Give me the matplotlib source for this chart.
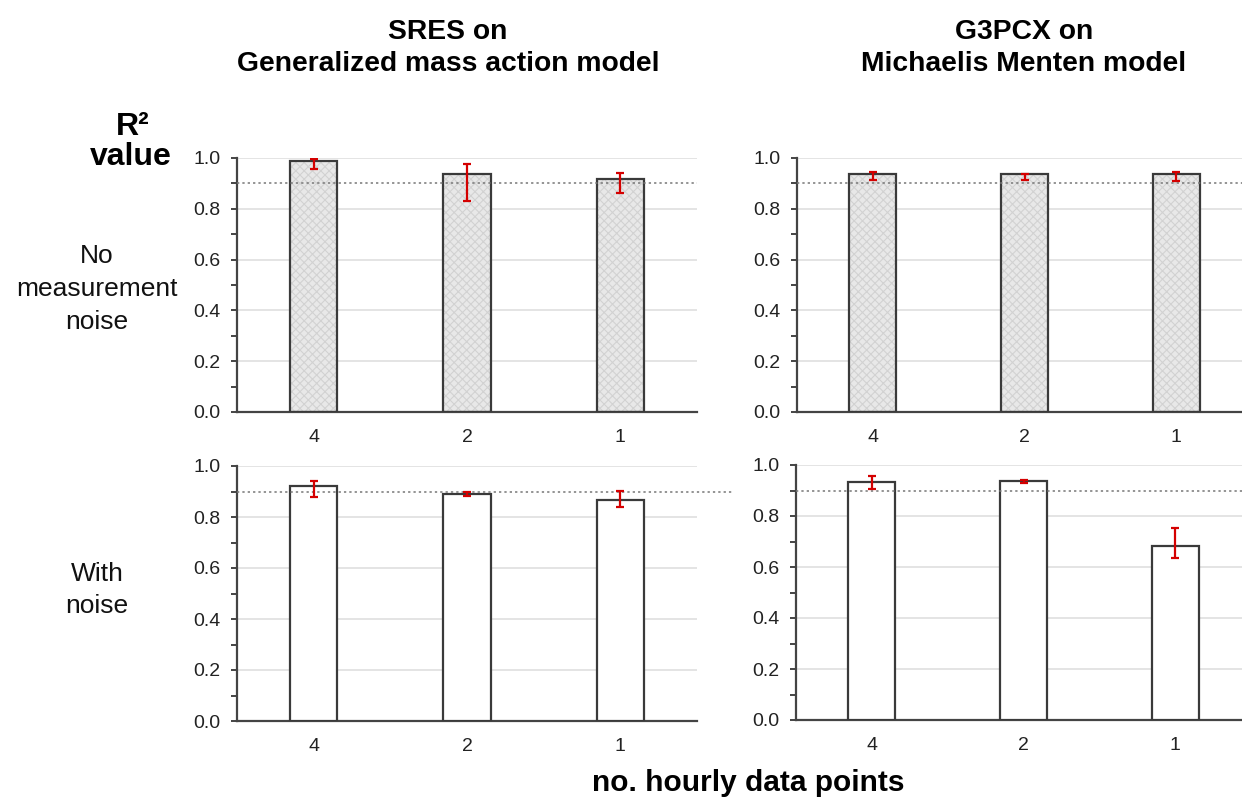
import matplotlib
matplotlib.use('Agg')
import matplotlib.pyplot as plt
from matplotlib.ticker import MultipleLocator

plt.rcParams['font.family'] = ['Liberation Sans', 'DejaVu Sans']
plt.rcParams['hatch.linewidth'] = 0.8

categories = ['4', '2', '1']

# no measurement noise
sres_clean = [0.989, 0.937, 0.918]
sres_clean_lo = [0.956, 0.830, 0.864]
sres_clean_hi = [0.995, 0.976, 0.940]
g3pcx_clean = [0.937, 0.937, 0.937]
g3pcx_clean_lo = [0.913, 0.913, 0.909]
g3pcx_clean_hi = [0.945, 0.938, 0.944]

# with noise
sres_noise = [0.922, 0.890, 0.867]
sres_noise_lo = [0.878, 0.882, 0.839]
sres_noise_hi = [0.942, 0.899, 0.903]
g3pcx_noise = [0.932, 0.937, 0.683]
g3pcx_noise_lo = [0.905, 0.930, 0.636]
g3pcx_noise_hi = [0.956, 0.940, 0.752]

threshold = 0.9

W, H = 1242, 801
fig = plt.figure(figsize=(W / 100, H / 100), dpi=100)


def px_axes(left, top, right, bottom):
    return fig.add_axes([left / W, 1 - bottom / H, (right - left) / W, (bottom - top) / H])


def panel(ax, vals, lo, hi, shaded, dot_end=1.0):
    x = list(range(len(categories)))
    if shaded:
        ax.bar(x, vals, width=0.31, color='#e8e8e8', edgecolor='#d2d2d2', hatch='xxxx',
               linewidth=0, zorder=2)
    ax.bar(x, vals, width=0.31, facecolor='none' if shaded else 'white',
           edgecolor='#3a3a3a', linewidth=1.6, zorder=3)
    yerr = [[v - l for v, l in zip(vals, lo)], [h - v for v, h in zip(vals, hi)]]
    ax.errorbar(x, vals, yerr=yerr, fmt='none', ecolor='#d40000', elinewidth=1.6,
                capsize=2.6, capthick=1.6, zorder=5)
    ax.plot([0, dot_end], [threshold, threshold], transform=ax.get_yaxis_transform(),
            ls=(0, (1.5, 2)), lw=1.1, color='#777777', clip_on=False, zorder=4)
    ax.set_xlim(-0.5, 2.5)
    ax.set_ylim(0, 1.0)
    ax.set_xticks(x)
    ax.set_xticklabels(categories)
    ax.yaxis.set_major_locator(MultipleLocator(0.2))
    ax.yaxis.set_minor_locator(MultipleLocator(0.1))
    ax.yaxis.set_major_formatter(plt.FuncFormatter(lambda v, p: f'{v:.1f}'))
    ax.grid(True, 'major', 'y', color='#e4e4e4', lw=1.4, zorder=0)
    ax.set_axisbelow(True)
    for each in ['top', 'right']:
        ax.spines[each].set_visible(False)
    for each in ['left', 'bottom']:
        ax.spines[each].set_color('#444444')
        ax.spines[each].set_linewidth(1.6)
    ax.tick_params(axis='x', length=0, pad=12, labelsize=14, labelcolor='#222222')
    ax.tick_params(axis='y', which='both', direction='out', length=4, width=1.4,
                   color='#444444', pad=8, labelsize=14, labelcolor='#222222')


ax1 = px_axes(237, 158, 697, 412)
ax2 = px_axes(797, 158, 1252, 412)
ax3 = px_axes(237, 466, 697, 721)
ax4 = px_axes(796, 465, 1251, 720)

panel(ax1, sres_clean, sres_clean_lo, sres_clean_hi, True)
panel(ax2, g3pcx_clean, g3pcx_clean_lo, g3pcx_clean_hi, True)
panel(ax3, sres_noise, sres_noise_lo, sres_noise_hi, False, dot_end=(733 - 237) / 460)
panel(ax4, g3pcx_noise, g3pcx_noise_lo, g3pcx_noise_hi, False)


def ftext(x, y, s, **kw):
    fig.text(x / W, 1 - y / H, s, ha='center', va='center', **kw)


ftext(448, 48, 'SRES on\nGeneralized mass action model', fontsize=20.3, fontweight='bold',
      linespacing=1.3)
ftext(1024, 48, 'G3PCX on\nMichaelis Menten model', fontsize=20.3, fontweight='bold',
      linespacing=1.3)
ftext(133, 127, 'R²', fontsize=23, fontweight='bold')
ftext(131, 157, 'value', fontsize=23, fontweight='bold')
ftext(97, 289, 'No\nmeasurement\nnoise', fontsize=19, linespacing=1.45, color='#111111')
ftext(97, 590, 'With\nnoise', fontsize=19, linespacing=1.4, color='#111111')
ftext(748, 783, 'no. hourly data points', fontsize=21.5, fontweight='bold')

fig.savefig('out.png', dpi=100)
